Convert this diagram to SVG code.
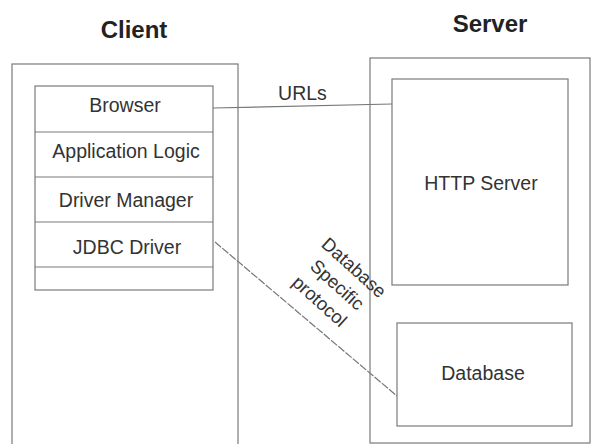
<svg xmlns="http://www.w3.org/2000/svg" width="592" height="444" viewBox="0 0 592 444">
<style>
.box{fill:none;stroke:#7a7a7a;stroke-width:1.2}
.lbl{font-family:"Liberation Sans",Arial,sans-serif;font-size:19.5px;fill:#333;text-anchor:middle}
.rot{font-size:18.5px}
.title{font-family:"Liberation Sans",Arial,sans-serif;font-size:24px;font-weight:bold;fill:#222;text-anchor:middle}
.conn{fill:none;stroke:#777;stroke-width:1.2}
</style>
<rect width="592" height="444" fill="#fff"/>
<text class="title" x="134" y="38">Client</text>
<text class="title" x="490" y="32">Server</text>
<g id="client">
<rect class="box" x="12" y="64" width="226" height="400"/>
</g>
<g id="client-stack">
<rect class="box" x="35" y="86" width="178" height="204"/>
</g>
<g id="browser">
<line class="box" x1="35" y1="132" x2="213" y2="132"/>
<text class="lbl" x="125" y="111.5">Browser</text>
</g>
<g id="app-logic">
<line class="box" x1="35" y1="177" x2="213" y2="177"/>
<text class="lbl" x="126" y="158">Application Logic</text>
</g>
<g id="driver-manager">
<line class="box" x1="35" y1="222" x2="213" y2="222"/>
<text class="lbl" x="126" y="206.5">Driver Manager</text>
</g>
<g id="jdbc-driver">
<line class="box" x1="35" y1="267" x2="213" y2="267"/>
<text class="lbl" x="127" y="254">JDBC Driver</text>
</g>
<g id="server">
<rect class="box" x="370" y="58" width="220" height="385"/>
</g>
<g id="http-server">
<rect class="box" x="392" y="79" width="176" height="206"/>
<text class="lbl" x="481" y="190">HTTP Server</text>
</g>
<g id="database">
<rect class="box" x="397" y="323" width="175" height="103"/>
<text class="lbl" x="483" y="380">Database</text>
</g>
<g id="connectors">
<line class="conn" x1="213" y1="108" x2="392" y2="104"/>
<text class="lbl" x="302.5" y="100">URLs</text>
<line class="conn" x1="215" y1="242" x2="397" y2="396" stroke-dasharray="8 1.5"/>
<g transform="rotate(42 337 285)">
<text class="lbl rot" x="338" y="267">Database</text>
<text class="lbl rot" x="337" y="291">Specific</text>
<text class="lbl rot" x="335" y="315">protocol</text>
</g>
</g>
</svg>
